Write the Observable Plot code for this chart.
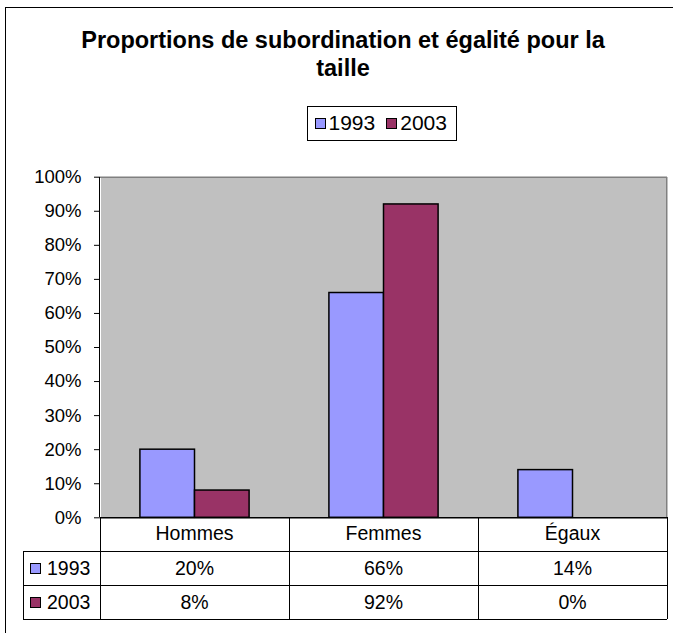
<!DOCTYPE html>
<html><head><meta charset="utf-8">
<script src="https://cdn.jsdelivr.net/npm/d3@7"></script>
<script src="https://cdn.jsdelivr.net/npm/@observablehq/plot@0.6"></script>
<style>
html,body{margin:0;padding:0;background:#fff;}
#root{position:relative;width:673px;height:633px;overflow:hidden;font-family:"Liberation Sans",Arial,sans-serif;color:#000;}
.abs{position:absolute;}
#frame{left:5px;top:6.5px;width:800px;height:800px;border-left:1.5px solid #000;border-top:1.5px solid #000;}
#title{top:26px;left:0;width:686px;text-align:center;font-weight:bold;font-size:23.5px;line-height:28px;white-space:nowrap;}
#legend{left:306.5px;top:106px;width:150px;height:34.5px;border:1px solid #000;box-sizing:border-box;background:#fff;display:flex;align-items:center;padding-left:7px;font-size:21px;}
.sw{width:11px;height:11px;border:1px solid #000;box-sizing:border-box;display:inline-block;}
.hl{height:0;border-top:1px solid #000;}
.vl{width:0;border-left:1px solid #000;}
.cell{text-align:center;font-size:19.5px;white-space:nowrap;}
svg{position:absolute;left:0;top:150px;}
</style></head><body><div id="root"></div>
<script>
// ---- data ----
const categories = ["Hommes", "Femmes", "Égaux"];
const seriesNames = ["1993", "2003"];
const values1993 = [0.20, 0.66, 0.14];
const values2003 = [0.08, 0.92, 0.00];
const yTicks = [0, 0.1, 0.2, 0.3, 0.4, 0.5, 0.6, 0.7, 0.8, 0.9, 1.0];
const seriesColors = ["#9999FF", "#993366"];
const titleLines = ["Proportions de subordination et égalité pour la", "taille"];

const seriesValues = {"1993": values1993, "2003": values2003};
const data = categories.flatMap((c, i) => seriesNames.map(s => ({category: c, series: s, value: seriesValues[s][i]})));
const pct = d3.format(".0%");

const root = document.getElementById("root");
function el(cls, css, html) {
  const d = document.createElement("div");
  d.className = cls;
  Object.assign(d.style, css);
  if (html != null) d.innerHTML = html;
  root.appendChild(d);
  return d;
}

// outer frame
const fr = el("abs", {}); fr.id = "frame";
// title
const t = el("abs", {}, titleLines.join("<br>")); t.id = "title";
// legend
const lg = el("abs", {}); lg.id = "legend";
seriesNames.forEach((s, i) => {
  const sw = document.createElement("span");
  sw.className = "sw"; sw.style.background = seriesColors[i];
  sw.style.marginRight = "3px";
  if (i > 0) sw.style.marginLeft = "11px";
  const tx = document.createElement("span");
  tx.textContent = s;
  lg.appendChild(sw); lg.appendChild(tx);
});

// ---- chart ----
const svgTop = 150, svgH = 380;
const plotTop = 176.7, plotBottom = 517.3, plotLeft = 100, plotRight = 667;
const chart = Plot.plot({
  width: 673,
  height: svgH,
  marginLeft: plotLeft,
  marginRight: 673 - plotRight,
  marginTop: plotTop - svgTop,
  marginBottom: svgTop + svgH - plotBottom,
  style: {fontFamily: '"Liberation Sans", Arial, sans-serif', fontSize: "18.5px", color: "#000", background: "transparent", overflow: "visible"},
  fx: {domain: categories, padding: 0, axis: null, round: false},
  x: {domain: seriesNames, paddingInner: 0, paddingOuter: 0.731, axis: null, round: false},
  y: {domain: [0, 1], ticks: yTicks, tickFormat: pct, tickSize: 6, tickPadding: 13, label: null},
  color: {domain: seriesNames, range: seriesColors},
  marks: [
    Plot.frame({fill: "#C0C0C0", stroke: null, shapeRendering: "crispEdges"}),
    Plot.ruleY([1], {stroke: "#808080", strokeWidth: 1.5}),
    Plot.barY(data, {fx: "category", x: "series", y: "value", fill: "series", stroke: "#000", strokeWidth: 1.5}),
    Plot.ruleY([0], {stroke: "#000", strokeWidth: 1.5})
  ]
});
root.appendChild(chart);

// ---- data table ----
const fxs = chart.scale("fx");
const bw = fxs.bandwidth;
const colX = categories.map(c => fxs.apply(c));
const right = colX[colX.length - 1] + bw;
const tableLeft = 23;
const rowY = [plotBottom, 551, 585, 619];

// plot-area right border (gray) and y axis line (black)
el("abs", {left: (right - 1) + "px", top: plotTop + "px", height: (plotBottom - plotTop) + "px", width: "0", borderLeft: "1.5px solid #808080"});
el("abs", {left: (colX[0] - 0.75) + "px", top: plotTop + "px", height: (plotBottom - plotTop) + "px", width: "0", borderLeft: "1.5px solid #000"});

// horizontal lines
for (let r = 1; r < rowY.length; r++) {
  el("abs hl", {left: tableLeft + "px", top: (rowY[r] - 0.5) + "px", width: (right - tableLeft) + "px"});
}
// vertical lines
el("abs vl", {left: (tableLeft - 0.5) + "px", top: rowY[1] + "px", height: (rowY[3] - rowY[1]) + "px"});
colX.concat([right]).forEach(x => {
  el("abs vl", {left: (x - 0.5) + "px", top: rowY[0] + "px", height: (rowY[3] - rowY[0]) + "px"});
});
// header row
categories.forEach((c, i) => {
  el("abs cell", {left: colX[i] + "px", width: bw + "px", top: rowY[0] + "px", height: (rowY[1] - rowY[0]) + "px", lineHeight: (rowY[1] - rowY[0]) + "px"}, c);
});
// series rows
seriesNames.forEach((s, r) => {
  const y0 = rowY[r + 1], h = rowY[r + 2] - rowY[r + 1];
  const lab = el("abs cell", {left: (tableLeft + 7) + "px", top: y0 + "px", height: h + "px", lineHeight: h + "px", textAlign: "left", display: "flex", alignItems: "center"});
  const sw = document.createElement("span");
  sw.className = "sw"; sw.style.background = seriesColors[r]; sw.style.marginRight = "6px";
  const tx = document.createElement("span"); tx.textContent = s;
  lab.appendChild(sw); lab.appendChild(tx);
  categories.forEach((c, i) => {
    el("abs cell", {left: colX[i] + "px", width: bw + "px", top: y0 + "px", height: h + "px", lineHeight: h + "px"}, pct(seriesValues[s][i]));
  });
});
</script>
</body></html>
